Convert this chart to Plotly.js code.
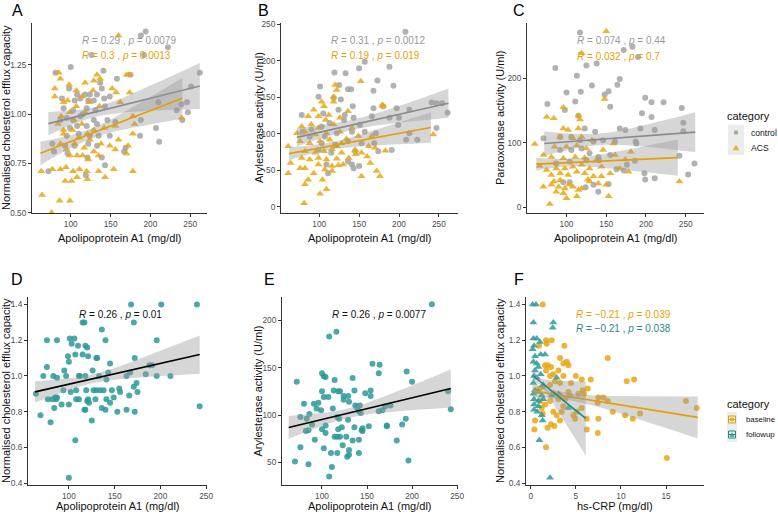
<!DOCTYPE html>
<html><head><meta charset="utf-8">
<script src="https://cdn.plot.ly/plotly-3.0.1.min.js"></script>
<style>html,body{margin:0;padding:0;background:#fff}#chart{width:778px;height:515px}</style>
</head><body><div id="chart"></div>
<script>
// ---------- Panel A : efflux vs ApoA1 ----------
const A_ctrl_x = [194,188,222,126,192,100,81,141,158,262,175,98,108,118,124,133,139,137,89,105,112,122,142,149,129,251,210,239,246,233,247,91,103,120,131,115,143,87,95,103,112,129,146,188,240,99,108,120,133,156,207,95,110,124,135,149,187,211,77,93,105,122,133,169,79,96,121,139,167,72,119,143];
const A_ctrl_y = [1.42,1.40,1.34,1.30,1.30,1.24,1.21,1.22,1.18,1.21,1.20,1.13,1.10,1.10,1.10,1.10,1.13,1.16,1.08,1.07,1.08,1.07,1.08,1.09,1.07,1.14,1.06,1.05,1.06,1.02,1.01,1.03,1.02,1.03,1.02,1.00,1.04,0.97,0.98,0.97,0.99,0.97,0.97,0.97,0.97,0.93,0.94,0.94,0.95,0.96,0.93,0.89,0.90,0.89,0.89,0.89,0.89,0.86,0.85,0.84,0.84,0.85,0.84,0.83,0.81,0.80,0.78,0.78,0.81,0.71,0.69,0.74];
const A_acs_x = [160,85,87,118,133,170,173,129,137,80,98,107,114,123,96,128,152,157,174,80,91,107,162,88,99,118,136,178,84,104,114,129,142,156,239,180,91,102,121,91,110,124,138,160,178,87,95,105,117,129,149,172,99,108,115,122,135,156,170,63,77,87,94,103,111,120,135,154,178,93,101,108,121,143,64,86,99,76];
const A_acs_y = [1.40,1.21,1.18,1.16,1.20,1.20,1.20,1.17,1.18,1.13,1.15,1.12,1.09,1.06,1.07,1.12,1.13,1.11,1.11,1.09,1.06,1.04,1.06,0.99,1.01,1.01,1.04,0.99,0.95,0.97,0.95,0.92,0.93,0.94,0.98,0.95,0.92,0.92,0.90,0.90,0.88,0.87,0.85,0.87,0.90,0.85,0.82,0.85,0.83,0.81,0.84,0.84,0.79,0.79,0.79,0.77,0.79,0.82,0.80,0.71,0.72,0.72,0.73,0.71,0.72,0.71,0.71,0.72,0.71,0.66,0.66,0.68,0.67,0.68,0.59,0.56,0.56,0.50];
const A_ctrl_fx = [72,100,130,160,200,230,262];
const A_ctrl_fit = [0.952,0.980,1.010,1.040,1.081,1.111,1.143];
const A_ctrl_lo = [0.893,0.942,0.985,1.005,1.017,1.022,1.026];
const A_ctrl_hi = [1.011,1.018,1.035,1.075,1.145,1.200,1.260];
const A_acs_fx = [62,90,115,140,170,200,240];
const A_acs_fit = [0.801,0.845,0.884,0.924,0.971,1.018,1.081];
const A_acs_lo = [0.741,0.806,0.857,0.896,0.925,0.948,0.978];
const A_acs_hi = [0.861,0.884,0.911,0.952,1.017,1.088,1.184];

// ---------- Panel B : arylesterase vs ApoA1 ----------
const B_ctrl_x = [208,157,188,150,119,133,101,125,136,140,173,99,118,127,168,193,78,105,124,132,142,143,168,180,197,188,200,213,241,247,254,261,79,90,103,113,131,151,166,199,247,88,107,122,141,157,171,213,103,120,136,153,169,209,223,99,115,145,174,191,109,141,111,143,136,150];
const B_ctrl_y = [240,199,192,190,184,183,165,167,161,161,173,151,149,147,159,166,126,128,133,126,138,122,135,138,135,122,122,133,143,142,142,129,103,106,110,115,119,112,124,112,108,96,96,101,103,103,101,101,87,85,90,87,87,92,92,78,74,76,76,78,58,58,46,53,62,56];
const B_acs_x = [152,120,122,118,103,118,179,180,93,106,86,99,112,136,108,126,78,90,99,118,141,72,82,95,109,126,149,166,243,61,76,88,101,113,128,145,162,170,82,95,106,116,128,153,183,160,64,78,88,99,109,122,137,146,82,99,116,124,130,164,172,61,76,93,107,153,176,86,82,104,109,101,81,116,122,134];
const B_acs_y = [172,167,160,151,144,144,140,138,133,138,124,124,126,131,119,122,110,113,108,113,108,101,103,99,101,103,97,97,99,83,90,87,90,92,87,78,83,81,76,74,76,79,74,74,77,69,60,67,65,67,65,66,67,72,53,58,56,57,58,60,49,46,53,46,51,42,42,37,31,37,24,18,5,49,83,93];
const B_ctrl_fx = [72,100,130,160,200,230,262];
const B_ctrl_fit = [95.2,102.1,109.5,116.9,126.7,134.1,142.0];
const B_ctrl_lo = [82.7,92.8,102.3,109.3,115.2,118.7,122.2];
const B_ctrl_hi = [107.7,111.4,116.7,124.5,138.2,149.5,161.8];
const B_acs_fx = [62,90,115,140,170,200,240];
const B_acs_fit = [72.9,78.5,83.6,88.6,94.7,100.7,108.8];
const B_acs_lo = [63.9,72.6,78.5,81.7,84.0,85.7,87.8];
const B_acs_hi = [81.9,84.4,88.7,95.5,105.4,115.7,129.8];

// ---------- Panel C : paraoxonase vs ApoA1 ----------
const C_ctrl_x = [117,86,113,125,138,172,183,190,100,118,132,153,148,167,164,111,155,76,98,115,199,207,222,245,195,207,247,247,167,174,193,211,123,136,71,92,106,117,134,146,161,187,188,92,106,119,129,140,155,87,104,125,141,163,176,186,242,261,253,198,199,211,96,104,134,140,153,124,172];
const C_ctrl_y = [271,216,204,220,223,244,249,233,178,179,189,180,175,199,190,164,156,160,151,142,170,163,163,154,146,140,131,118,122,120,122,120,122,117,107,109,109,104,102,104,102,102,99,89,89,91,84,78,81,68,71,73,73,59,66,72,80,68,51,53,43,45,39,39,35,24,36,31,57];
const C_acs_x = [150,119,148,96,75,84,115,117,60,96,102,115,92,108,119,132,159,85,100,113,125,146,161,181,71,81,96,111,123,137,174,66,75,87,98,108,119,129,144,167,81,92,102,113,123,134,144,155,178,71,81,90,98,108,119,129,140,150,87,96,115,153,100,113,79,242,103,127,92,84];
const C_acs_y = [273,239,168,155,140,138,142,136,98,122,120,122,109,107,109,104,99,94,94,96,91,89,81,86,81,78,76,78,77,72,74,64,58,60,60,63,66,60,63,60,50,53,50,55,53,48,48,53,55,32,35,32,29,32,29,40,37,35,24,22,27,17,14,17,5,40,35,43,42,40];
const C_ctrl_fx = [72,100,130,160,200,230,262];
const C_ctrl_fit = [99,101.6,104.3,107.1,110.8,113.6,116.5];
const C_ctrl_lo = [80,88.2,94.9,96.9,93.7,90,85.5];
const C_ctrl_hi = [118,115,113.7,117.3,127.9,137.2,147.5];
const C_acs_fx = [62,90,115,140,170,200,240];
const C_acs_fit = [67,68.6,70,71.4,73.1,74.8,77];
const C_acs_lo = [57,62.1,63.5,61.8,58.3,54.4,49];
const C_acs_hi = [77,75.1,76.5,81,87.9,95.2,105];

// ---------- Panel D : efflux vs ApoA1 (follow-up) ----------
const D_x = [168,201,240,115,117,171,136,101,106,76,87,140,196,103,110,118,120,115,121,130,131,99,107,172,145,100,95,76,83,72,87,97,111,112,118,126,133,141,143,163,167,184,188,191,196,211,174,171,155,156,147,138,134,130,127,119,108,102,94,64,69,80,77,82,85,86,87,84,92,100,108,111,121,122,129,141,145,149,166,120,117,118,140,153,163,172,125,107,100,243,136,175];
const D_y = [1.40,1.40,1.40,1.30,1.30,1.30,1.26,1.21,1.21,1.20,1.20,1.20,1.20,1.18,1.17,1.17,1.16,1.12,1.11,1.10,1.10,1.11,1.12,1.10,1.07,1.08,1.03,1.05,1.00,1.00,0.99,1.00,1.00,1.00,1.00,1.03,1.00,0.98,1.02,1.00,1.02,1.01,1.06,1.06,1.00,1.00,0.96,0.94,0.93,0.91,0.92,0.92,0.92,0.92,0.92,0.92,0.92,0.91,0.92,0.90,0.78,0.74,0.87,0.87,0.88,0.87,0.88,0.82,0.84,0.84,0.87,0.87,0.87,0.85,0.87,0.87,0.85,0.88,0.89,0.86,0.81,0.81,0.81,0.80,0.81,0.80,0.75,0.64,0.43,0.83,0.82,0.91];
const D_fx = [63,90,120,150,180,210,243];
const D_fit = [0.911,0.942,0.977,1.012,1.047,1.082,1.120];
const D_lo = [0.851,0.902,0.952,0.979,0.993,1.003,1.013];
const D_hi = [0.971,0.982,1.002,1.045,1.102,1.161,1.227];

// ---------- Panel E : arylesterase vs ApoA1 (follow-up) ----------
const E_x = [222,116,108,156,164,163,194,100,102,104,114,134,200,72,154,148,113,118,120,136,100,124,129,154,107,102,96,91,80,124,130,137,142,139,176,170,167,163,141,143,243,240,112,99,94,86,83,76,89,82,85,100,104,117,119,122,129,118,136,144,145,172,172,193,189,104,114,117,120,127,134,141,145,92,183,76,102,110,117,128,130,141,130,70,85,196,111,108,123,152];
const E_y = [217,188,183,154,153,144,146,144,141,140,137,139,135,135,126,123,126,125,125,126,125,120,120,120,119,119,113,112,112,116,114,110,110,108,110,109,105,104,104,102,106,125,107,105,107,101,96,98,90,83,84,85,89,98,96,87,95,85,87,84,86,89,88,96,90,81,77,77,77,77,73,74,83,74,73,66,65,60,60,56,58,60,63,51,48,52,45,35,68,88];
const E_fx = [63,90,120,150,180,210,243];
const E_fit = [86.9,93.1,99.9,106.8,113.6,120.5,128];
const E_lo = [74.9,85,94.7,100.6,103.5,105.8,108];
const E_hi = [98.9,101.2,105.1,113,123.7,135.2,148];

// ---------- Panel F : efflux vs hs-CRP ----------
const F_base_x = [1.33,1.70,2.33,3.73,1.77,0.92,3.25,4.0,4.18,3.62,8.54,1.59,1.88,2.25,2.51,1.70,3.62,4.99,5.65,6.65,10.64,11.46,4.47,3.25,2.70,2.14,1.40,6.32,7.5,8.06,8.54,9.09,10.46,11.31,12.12,17.2,18.4,15.08,7.43,7.5,7.43,6.21,6.21,5.65,4.73,4.92,3.62,3.25,2.62,2.25,1.88,1.70,0.48,0.41,1.33,1.59,2.14,3.07,3.81,4.36,5.28,5.77,4.18,3.25,2.51,2.88,1.03,1.22,0.96,2.14,3.07,2.51,5.1,3.44,5.91];
const F_base_y = [1.40,1.20,1.20,1.17,1.18,1.17,1.10,1.08,1.06,1.07,1.10,1.06,1.06,1.05,1.01,1.03,1.00,1.00,0.98,0.98,0.97,0.98,0.96,0.96,0.97,0.95,0.94,0.93,0.88,0.88,0.86,0.80,0.78,0.76,0.79,0.86,0.82,0.54,0.85,0.76,0.68,0.70,0.76,0.82,0.78,0.76,0.83,0.75,0.72,0.73,0.71,0.60,0.75,0.70,0.79,0.84,0.86,0.87,0.87,0.89,0.90,0.92,0.91,0.89,0.80,0.78,0.86,0.82,0.93,1.00,1.03,0.90,0.80,0.80,0.90];
const F_fu_x = [0.22,0.59,0.30,2.51,2.44,0.30,0.67,1.03,0.37,1.11,0.48,0.30,0.67,0.85,0.48,1.11,0.37,0.67,2.88,0.30,1.40,0.48,0.85,0.30,1.22,2.33,3.07,0.37,0.85,1.40,0.37,0.85,0.37,0.74,1.22,1.33,4.18,0.96,2.14,1.59,0.22];
const F_fu_y = [1.40,1.40,1.30,1.30,1.27,1.21,1.21,1.19,1.17,1.12,1.11,1.08,1.07,1.05,1.03,1.01,1.00,0.99,0.99,0.96,0.95,0.92,0.91,0.90,0.89,0.89,0.90,0.87,0.86,0.87,0.84,0.83,0.81,0.80,0.78,0.75,0.82,0.64,0.43,1.12,1.15];
const F_base_fx = [0.2,2,4,7,10,14,18.5];
const F_base_fit = [0.917,0.902,0.886,0.862,0.838,0.805,0.768];
const F_base_lo = [0.877,0.874,0.866,0.833,0.788,0.724,0.651];
const F_base_hi = [0.957,0.930,0.906,0.891,0.888,0.886,0.885];
const F_fu_fx = [0.2,0.6,1.2,2,3,4.5,6.1];
const F_fu_fit = [1.004,0.988,0.963,0.930,0.889,0.827,0.762];
const F_fu_lo = [0.969,0.964,0.940,0.883,0.804,0.683,0.555];
const F_fu_hi = [1.039,1.012,0.986,0.978,0.974,0.971,0.969];

// ---------- texts ----------
const panelLabels = ['A','B','C','D','E','F'];
const statTexts = {
  A: ['<i>R</i> = 0.29 , <i>p</i> = 0.0079', '<i>R</i> = 0.3 , <i>p</i> = 0.0013'],
  B: ['<i>R</i> = 0.31 , <i>p</i> = 0.0012', '<i>R</i> = 0.19 , <i>p</i> = 0.019'],
  C: ['<i>R</i> = 0.074 , <i>p</i> = 0.44', '<i>R</i> = 0.032 , <i>p</i> = 0.7'],
  D: ['<i>R</i> = 0.26 , <i>p</i> = 0.01'],
  E: ['<i>R</i> = 0.26 , <i>p</i> = 0.0077'],
  F: ['<i>R</i> = \u22120.21 , <i>p</i> = 0.039', '<i>R</i> = \u22120.21 , <i>p</i> = 0.038']
};
const legendTitle = 'category';
const groupNames1 = ['control','ACS'];
const groupNames2 = ['baseline','followup'];
const xTitleApo = 'Apolipoprotein A1 (mg/dl)';
const xTitleCrp = 'hs-CRP (mg/dl)';
const yTitleEfflux = 'Normalised cholesterol efflux capacity';
const yTitleAryl = 'Arylesterase activity (U/ml)';
const yTitlePara = 'Paraoxonase activity (U/ml)';

// ---------- styling ----------
const W = 778, H = 515;
const FONT = 'Liberation Sans, Arial, sans-serif';
const GREY = '#a3a3a3', GREYLINE = '#8c8c8c', ORANGE = '#E69F00', ORANGEPT = '#e8a713', TEAL = '#2a9a98', TEALLINE = '#1f8a88';
const RIB = 'rgba(153,153,153,0.4)';

function pts(x, y, xa, ya, color, symbol, size, name) {
  return {type:'scatter', mode:'markers', x:x, y:y, xaxis:xa, yaxis:ya, name:name||'', showlegend:false,
    marker:{color:color, symbol:symbol, size:size, opacity:0.85, line:{width:0}}, hoverinfo:'skip'};
}
function band(fx, lo, hi, xa, ya) {
  return [
    {type:'scatter', mode:'lines', x:fx, y:lo, xaxis:xa, yaxis:ya, line:{width:0, shape:'spline'}, showlegend:false, hoverinfo:'skip'},
    {type:'scatter', mode:'lines', x:fx, y:hi, xaxis:xa, yaxis:ya, line:{width:0, shape:'spline'}, fill:'tonexty', fillcolor:RIB, showlegend:false, hoverinfo:'skip'}
  ];
}
function fitLine(fx, fy, xa, ya, color) {
  return {type:'scatter', mode:'lines', x:fx, y:fy, xaxis:xa, yaxis:ya, line:{color:color, width:1.6}, showlegend:false, hoverinfo:'skip'};
}

const traces = [];
// A
traces.push(pts(A_ctrl_x, A_ctrl_y, 'x', 'y', GREY, 'circle', 6, groupNames1[0]));
traces.push(pts(A_acs_x, A_acs_y, 'x', 'y', ORANGEPT, 'triangle-up', 7, groupNames1[1]));
traces.push(...band(A_ctrl_fx, A_ctrl_lo, A_ctrl_hi, 'x', 'y'), fitLine(A_ctrl_fx, A_ctrl_fit, 'x', 'y', GREYLINE));
traces.push(...band(A_acs_fx, A_acs_lo, A_acs_hi, 'x', 'y'), fitLine(A_acs_fx, A_acs_fit, 'x', 'y', ORANGE));
// B
traces.push(pts(B_ctrl_x, B_ctrl_y, 'x2', 'y2', GREY, 'circle', 6, groupNames1[0]));
traces.push(pts(B_acs_x, B_acs_y, 'x2', 'y2', ORANGEPT, 'triangle-up', 7, groupNames1[1]));
traces.push(...band(B_ctrl_fx, B_ctrl_lo, B_ctrl_hi, 'x2', 'y2'), fitLine(B_ctrl_fx, B_ctrl_fit, 'x2', 'y2', GREYLINE));
traces.push(...band(B_acs_fx, B_acs_lo, B_acs_hi, 'x2', 'y2'), fitLine(B_acs_fx, B_acs_fit, 'x2', 'y2', ORANGE));
// C
traces.push(pts(C_ctrl_x, C_ctrl_y, 'x3', 'y3', GREY, 'circle', 6, groupNames1[0]));
traces.push(pts(C_acs_x, C_acs_y, 'x3', 'y3', ORANGEPT, 'triangle-up', 7, groupNames1[1]));
traces.push(...band(C_ctrl_fx, C_ctrl_lo, C_ctrl_hi, 'x3', 'y3'), fitLine(C_ctrl_fx, C_ctrl_fit, 'x3', 'y3', GREYLINE));
traces.push(...band(C_acs_fx, C_acs_lo, C_acs_hi, 'x3', 'y3'), fitLine(C_acs_fx, C_acs_fit, 'x3', 'y3', ORANGE));
// D
traces.push(pts(D_x, D_y, 'x4', 'y4', TEAL, 'circle', 6, 'followup'));
traces.push(...band(D_fx, D_lo, D_hi, 'x4', 'y4'), fitLine(D_fx, D_fit, 'x4', 'y4', '#000'));
// E
traces.push(pts(E_x, E_y, 'x5', 'y5', TEAL, 'circle', 6, 'followup'));
traces.push(...band(E_fx, E_lo, E_hi, 'x5', 'y5'), fitLine(E_fx, E_fit, 'x5', 'y5', '#000'));
// F
traces.push(pts(F_base_x, F_base_y, 'x6', 'y6', ORANGEPT, 'circle', 6, groupNames2[0]));
traces.push(pts(F_fu_x, F_fu_y, 'x6', 'y6', TEAL, 'triangle-up', 7, groupNames2[1]));
traces.push(...band(F_base_fx, F_base_lo, F_base_hi, 'x6', 'y6'), fitLine(F_base_fx, F_base_fit, 'x6', 'y6', ORANGE));
traces.push(...band(F_fu_fx, F_fu_lo, F_fu_hi, 'x6', 'y6'), fitLine(F_fu_fx, F_fu_fit, 'x6', 'y6', TEALLINE));

// ---------- layout ----------
const dX = (l, r) => [l / W, r / W];
const dY = (t, b) => [1 - b / H, 1 - t / H];
function ax(extra) {
  return Object.assign({
    showline:true, linecolor:'#333', linewidth:1, ticks:'outside', ticklen:3, tickcolor:'#333', tickwidth:1,
    showgrid:false, zeroline:false, automargin:false, fixedrange:true,
    tickfont:{family:FONT, size:8.3, color:'#4d4d4d'}
  }, extra);
}
const apoTicks = [100,150,200,250];
const layout = {
  width:W, height:H, margin:{l:0, r:0, t:0, b:0}, paper_bgcolor:'#fff', plot_bgcolor:'#fff',
  font:{family:FONT, color:'#111'}, showlegend:false,
  xaxis: ax({domain:dX(32,207), range:[51.4,271], tickvals:apoTicks, anchor:'y'}),
  yaxis: ax({domain:dY(23,213), range:[0.498,1.463], tickvals:[0.5,0.75,1,1.25], tickformat:'.2f', anchor:'x'}),
  xaxis2: ax({domain:dX(281,458), range:[52,274], tickvals:apoTicks, anchor:'y2'}),
  yaxis2: ax({domain:dY(23,213), range:[-8.5,252], tickvals:[0,50,100,150,200,250], anchor:'x2'}),
  xaxis3: ax({domain:dX(527,704), range:[50.3,273], tickvals:apoTicks, anchor:'y3'}),
  yaxis3: ax({domain:dY(23,213), range:[-8.8,285.7], tickvals:[0,100,200], anchor:'x3'}),
  xaxis4: ax({domain:dX(28,207), range:[55.3,251], tickvals:apoTicks, anchor:'y4'}),
  yaxis4: ax({domain:dY(297,485), range:[0.389,1.4425], tickvals:[0.4,0.6,0.8,1.0,1.2,1.4], tickformat:'.1f', anchor:'x4'}),
  xaxis5: ax({domain:dX(282,458), range:[55.6,251], tickvals:apoTicks, anchor:'y5'}),
  yaxis5: ax({domain:dY(297,485), range:[26.1,224.6], tickvals:[50,100,150,200], anchor:'x5'}),
  xaxis6: ax({domain:dX(526,704), range:[-0.52,19.2], tickvals:[0,5,10,15], anchor:'y6'}),
  yaxis6: ax({domain:dY(297,485), range:[0.389,1.4425], tickvals:[0.4,0.6,0.8,1.0,1.2,1.4], tickformat:'.1f', anchor:'x6'}),
  annotations: [],
  shapes: []
};

// panel letters
const letterPos = [[10,11],[256,11],[511,11],[9,279],[262,279],[512,279]];
panelLabels.forEach((t, i) => {
  layout.annotations.push({text:t, xref:'paper', yref:'paper', x:letterPos[i][0]/W, y:1-letterPos[i][1]/H,
    xanchor:'left', yanchor:'middle', showarrow:false, font:{family:FONT, size:16, color:'#000'}});
});
// axis titles
function title(text, cx, cy, angle) {
  layout.annotations.push({text:text, xref:'paper', yref:'paper', x:cx/W, y:1-cy/H, xanchor:'center', yanchor:'middle',
    textangle:angle, showarrow:false, borderpad:0, font:{family:FONT, size:11, color:'#111'}});
}
title(xTitleApo, 119.5, 237.5, 0);
title(xTitleApo, 369.5, 237.5, 0);
title(xTitleApo, 615.5, 237.5, 0);
title(xTitleApo, 117.5, 506, 0);
title(xTitleApo, 370, 506, 0);
title(xTitleCrp, 615, 506, 0);
title(yTitleEfflux, 6, 118, -90);
title(yTitleAryl, 259, 118, -90);
title(yTitlePara, 500, 118, -90);
title(yTitleEfflux, 6, 391, -90);
title(yTitleAryl, 257.5, 391, -90);
title(yTitleEfflux, 500, 391, -90);

// stat annotations (data coords)
function stat(text, xa, ya, x, y, color) {
  layout.annotations.push({text:text, xref:xa, yref:ya, x:x, y:y, xanchor:'left', yanchor:'middle',
    showarrow:false, font:{family:FONT, size:10, color:color}});
}
stat(statTexts.A[0], 'x', 'y', 111.7, 1.373, '#9a9a9a');
stat(statTexts.A[1], 'x', 'y', 111.7, 1.297, ORANGE);
stat(statTexts.B[0], 'x2', 'y2', 112.2, 227.7, '#9a9a9a');
stat(statTexts.B[1], 'x2', 'y2', 112.2, 207.2, ORANGE);
stat(statTexts.C[0], 'x3', 'y3', 111.3, 258, '#9a9a9a');
stat(statTexts.C[1], 'x3', 'y3', 111.3, 234.5, ORANGE);
stat(statTexts.D[0], 'x4', 'y4', 109.1, 1.344, '#111');
stat(statTexts.E[0], 'x5', 'y5', 109.2, 206.3, '#111');
stat(statTexts.F[0], 'x6', 'y6', 4.8, 1.344, ORANGE);
stat(statTexts.F[1], 'x6', 'y6', 4.8, 1.266, TEALLINE);

// ---------- legends (drawn as guide graphics in paper space) ----------
const px = v => v / W, py = v => 1 - v / H;
function ltext(text, x, y, size) {
  layout.annotations.push({text:text, xref:'paper', yref:'paper', x:px(x), y:py(y), xanchor:'left', yanchor:'middle',
    showarrow:false, borderpad:0, font:{family:FONT, size:size, color:'#111'}});
}
function rect(x0, y0, x1, y1, fill, lineColor) {
  layout.shapes.push({type:'rect', xref:'paper', yref:'paper', x0:px(x0), x1:px(x1), y0:py(y1), y1:py(y0),
    fillcolor:fill, line:{width:lineColor ? 1 : 0, color:lineColor || fill}, layer:'above'});
}
function dot(cx, cy, r, color) {
  layout.shapes.push({type:'circle', xref:'paper', yref:'paper', x0:px(cx-r), x1:px(cx+r), y0:py(cy+r), y1:py(cy-r),
    fillcolor:color, line:{width:0}, opacity:0.9, layer:'above'});
}
function tri(cx, cy, s, color) {
  const h = s * 0.87;
  layout.shapes.push({type:'path', xref:'paper', yref:'paper',
    path:`M ${px(cx - s/2)} ${py(cy + h/2)} L ${px(cx + s/2)} ${py(cy + h/2)} L ${px(cx)} ${py(cy - h/2)} Z`,
    fillcolor:color, line:{width:0}, opacity:0.9, layer:'above'});
}
function hline(x0, x1, y, color) {
  layout.shapes.push({type:'line', xref:'paper', yref:'paper', x0:px(x0), x1:px(x1), y0:py(y), y1:py(y),
    line:{width:1, color:color}, layer:'above'});
}
// legend 1 : control / ACS
ltext(legendTitle, 726, 116, 11);
rect(728, 124.5, 744, 155, '#ececec');
dot(736, 132.5, 2.3, GREY);
tri(736, 147.5, 6.5, ORANGEPT);
ltext(groupNames1[0], 750, 132.5, 8.6);
ltext(groupNames1[1], 750, 147.5, 8.6);
// legend 2 : baseline / followup
ltext(legendTitle, 726, 404, 11);
rect(727, 412, 737, 442, '#ececec');
rect(728.5, 416, 735.5, 423, 'rgba(0,0,0,0)', ORANGE);
hline(728.5, 735.5, 419.5, ORANGE);
dot(732, 419.5, 2, ORANGEPT);
rect(728.5, 431, 735.5, 438, 'rgba(0,0,0,0)', TEALLINE);
hline(728.5, 735.5, 434.5, TEALLINE);
tri(732, 434.5, 5, TEAL);
ltext(groupNames2[0], 745, 419.5, 7.8);
ltext(groupNames2[1], 745, 434.5, 7.8);

Plotly.newPlot('chart', traces, layout, {staticPlot:true, displayModeBar:false});
</script>
</body></html>
